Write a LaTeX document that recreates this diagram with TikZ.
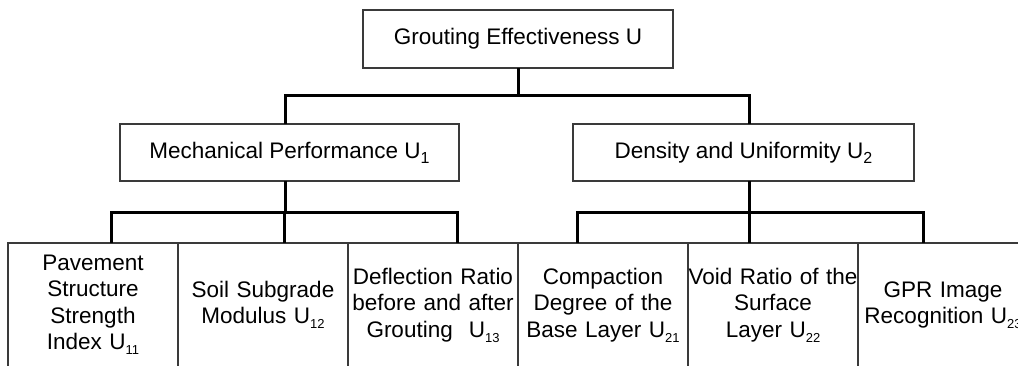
\documentclass[tikz,border=0pt]{standalone}
\usepackage{fontspec}
\setmainfont{Liberation Sans}
\usetikzlibrary{positioning,chains,calc}
\definecolor{boxgray}{HTML}{3A3A3A}
% subscripts set in the text font
\newcommand{\Umid}[1]{U\raisebox{-5pt}{\fontsize{16}{16}\selectfont #1}}
\newcommand{\Uleaf}[1]{U\raisebox{-5pt}{\fontsize{13}{13}\selectfont #1}}

\begin{document}
\begin{tikzpicture}[%
    x=1pt, y=-1pt,             % work in picture pixels, y going down
    start chain=going right,   % bottom row runs left-to-right
    node distance=0pt,         % leaf boxes share their borders
    every node/.style={font=\fontsize{22.5}{26.5}\selectfont}]
\useasboundingbox (0,0) rectangle (1018,365);
% -------------------------------------------------
% Box and line styles
\tikzset{
  box/.style={draw=boxgray, line width=1.2pt, inner sep=0pt, outer sep=0pt, align=center},
  goal/.style={box, minimum width=310pt, minimum height=58pt},
  crit/.style={box, minimum height=57pt},
  leaf/.style={box, on chain, text width=170pt, minimum height=124pt},
  tree/.style={draw=black, line width=3pt}
}
% -------------------------------------------------
% Goal and criteria
\node [goal] (u) at (518,39) {Grouting Effectiveness U};
\node [crit, minimum width=339pt] (u1) at (289.5,152.5) {Mechanical Performance \Umid{1}};
\node [crit, minimum width=341pt] (u2) at (743.5,152.5) {Density and Uniformity \Umid{2}};

% -------------------------------------------------
% Indicators along the bottom
\node [leaf] (u11) at (93,305) {Pavement\\Structure\\Strength\\Index \Uleaf{11}};
\node [leaf] (u12) {Soil Subgrade\\Modulus \Uleaf{12}};
\node [leaf] (u13) {Deflection Ratio\\before and after\\Grouting\hspace{16pt}\Uleaf{13}};
\node [leaf] (u21) {Compaction\\Degree of the\\Base Layer \Uleaf{21}};
\node [leaf] (u22) {Void Ratio of the\\Surface\\Layer \Uleaf{22}};
\node [leaf] (u23) {GPR Image\\Recognition \Uleaf{23}};

% -------------------------------------------------
% Branch points of the tree
\coordinate (r1) at (285,95);
\coordinate (r2) at (749,95);
\coordinate (s11) at (111,212);
\coordinate (s12) at (284,212);
\coordinate (s13) at (457,212);
\coordinate (s21) at (577,212);
\coordinate (s22) at (749,212);
\coordinate (s23) at (923,212);

% goal to criteria
\draw [tree] (u.south) -- (u.south |- r1);
\draw [tree] (r1 |- u1.north) -- (r1) -- (r2) -- (r2 |- u2.north);

% criteria to indicators
\draw [tree] (r1 |- u1.south) -- (r1 |- s12);
\draw [tree] (r2 |- u2.south) -- (r2 |- s22);
\draw [tree] (s11 |- u11.north) -- (s11) -- (s13) -- (s13 |- u13.north);
\draw [tree] (s21 |- u21.north) -- (s21) -- (s23) -- (s23 |- u23.north);
\foreach \s/\l in {s12/u12, s22/u22}
  \draw [tree] (\s) -- (\s |- \l.north);
\end{tikzpicture}
\end{document}
